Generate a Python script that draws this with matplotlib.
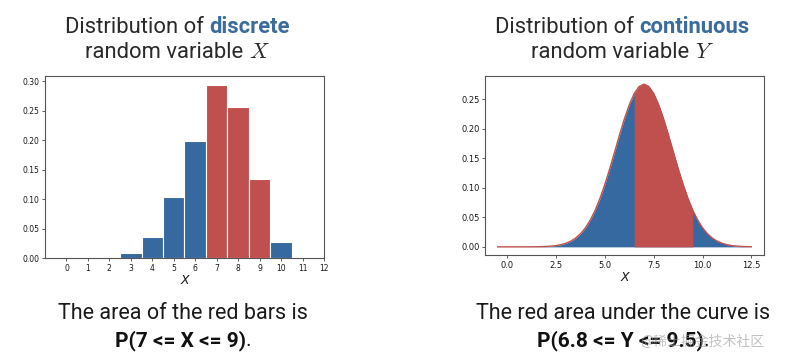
import numpy as np
import matplotlib
matplotlib.use("Agg")
from matplotlib import pyplot as plt

# discrete distribution (bar heights)
x_vals = [0, 1, 2, 3, 4, 5, 6, 7, 8, 9, 10, 11]
p_vals = [0.0, 0.0, 0.0, 0.009, 0.036, 0.103, 0.199, 0.293, 0.256, 0.134, 0.027, 0.0]
red_x = [7, 8, 9]

# continuous density, read at 0.25 steps from -0.5 to 12.5
curve_x = [-0.5 + 0.25 * i for i in range(53)]
curve_y = [0.0, 0.0, 0.0, 0.0, 0.0, 0.0, 0.0,
           0.0001, 0.0002, 0.0004, 0.0007, 0.0013, 0.0022, 0.0037, 0.0061, 0.0097,
           0.0149, 0.0223, 0.0323, 0.0455, 0.0621, 0.0824, 0.1062, 0.1328, 0.1611,
           0.1898, 0.2170, 0.2408, 0.2594, 0.2712, 0.2753,
           0.2712, 0.2594, 0.2408, 0.2170, 0.1898, 0.1611, 0.1328, 0.1062, 0.0824,
           0.0621, 0.0455, 0.0323, 0.0223, 0.0149, 0.0097, 0.0061, 0.0037, 0.0022,
           0.0013, 0.0007, 0.0004, 0.0002]
red_lo, red_hi = 6.5, 9.5

BLUE = '#3669a0'
RED = '#c0504d'
TXT = '#1a1a1a'
TITLE_BLUE = '#3c6c9c'

plt.rcParams['mathtext.fontset'] = 'cm'

fig = plt.figure(figsize=(7.85, 3.58), dpi=100)
ax1 = fig.add_axes([0.0573, 0.2793, 0.3554, 0.5084])
ax2 = fig.add_axes([0.6178, 0.2877, 0.3554, 0.5000])

# left: bars
colors = [RED if v in red_x else BLUE for v in x_vals]
ax1.bar(x_vals, p_vals, width=1.0, color=colors, edgecolor='white', linewidth=0.8)
ax1.set_xlim(-1, 12)
ax1.set_ylim(0, 0.309)
ax1.set_xticks(range(0, 13))
ax1.set_yticks(np.arange(0, 0.31, 0.05))
ax1.yaxis.set_major_formatter(matplotlib.ticker.FormatStrFormatter('%.2f'))
ax1.tick_params(labelsize=5.5, length=2.5, width=0.6, colors='#444444', labelcolor=TXT, pad=1.5)
ax1.set_xlabel('X', fontsize=9, style='italic', labelpad=1, color=TXT)

# right: density curve
cx = np.array(curve_x)
cy = np.array(curve_y)
ax2.fill_between(cx, 0, cy, color=BLUE, linewidth=0)
ax2.fill_between(cx, 0, cy, where=(cx >= red_lo) & (cx <= red_hi), color=RED, linewidth=0)
ax2.plot(cx, cy, color=RED, linewidth=1.0)
ax2.xaxis.set_major_locator(matplotlib.ticker.MultipleLocator(2.5))
ax2.xaxis.set_major_formatter(matplotlib.ticker.FormatStrFormatter('%.1f'))
ax2.set_yticks(np.arange(0, 0.26, 0.05))
ax2.yaxis.set_major_formatter(matplotlib.ticker.FormatStrFormatter('%.2f'))
ax2.tick_params(labelsize=6, length=2.5, width=0.6, colors='#444444', labelcolor=TXT, pad=1.5)
ax2.set_xlabel('X', fontsize=9, style='italic', labelpad=1, color=TXT)

for ax in (ax1, ax2):
    for s in ax.spines.values():
        s.set_color('#555555')
        s.set_linewidth(0.8)


def mixed_line(xc, y, parts):
    # place several differently styled pieces side by side, centred on xc
    renderer = fig.canvas.get_renderer()
    texts = [fig.text(0, y, s, ha='left', va='baseline', **kw) for s, kw in parts]
    widths = [t.get_window_extent(renderer).width / fig.bbox.width for t in texts]
    x = xc - sum(widths) / 2
    for t, w in zip(texts, widths):
        t.set_x(x)
        x += w


light = dict(family='Roboto', weight='normal', fontsize=15.8, color='#2a2a2a')
bold_t = dict(family='Roboto', weight='bold', fontsize=15.8, color=TITLE_BLUE)
narrow = dict(family='Roboto', fontsize=15.5, color=TXT)
narrow_b = dict(family='Roboto', weight='bold', fontsize=15, color='#111111')

lc, rc = 0.226, 0.793
mixed_line(lc, 0.908, [('Distribution of ', light), ('discrete', bold_t)])
mixed_line(lc, 0.837, [('random variable ', light), (r'$X$', light)])
mixed_line(rc, 0.908, [('Distribution of ', light), ('continuous', bold_t)])
mixed_line(rc, 0.837, [('random variable ', light), (r'$Y$', light)])

mixed_line(0.233, 0.108, [('The area of the red bars is', narrow)])
mixed_line(0.233, 0.033, [('P(7 <= X <= 9)', narrow_b), ('.', narrow)])
mixed_line(0.794, 0.110, [('The red area under the curve is', narrow)])
mixed_line(0.794, 0.033, [('P(6.8 <= Y <= 9.5)', narrow_b), ('.', narrow)])

fig.text(0.895, 0.045, '@稀土掘金技术社区', family=['Noto Sans CJK SC', 'DejaVu Sans'],
         fontsize=10, color='#999999', alpha=0.6, ha='center', va='center')

fig.savefig('out.png', dpi=100)
